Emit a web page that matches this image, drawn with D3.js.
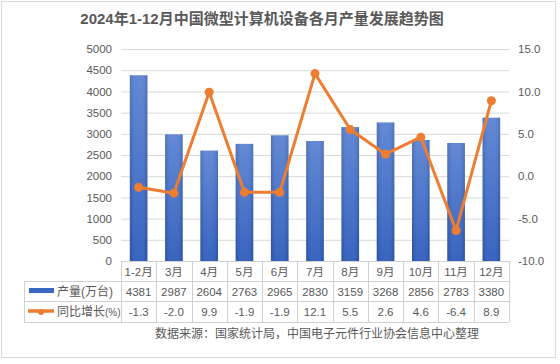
<!DOCTYPE html>
<html><head><meta charset="utf-8">
<script src="https://cdn.jsdelivr.net/npm/d3@7"></script>
<style>body{margin:0;background:#fff}svg{display:block}</style>
</head><body>
<svg id="c" width="560" height="364"></svg>
<script>
const categories = ["1-2月","3月","4月","5月","6月","7月","8月","9月","10月","11月","12月"];
const production = [4381,2987,2604,2763,2965,2830,3159,3268,2856,2783,3380];
const growth = [-1.3,-2.0,9.9,-1.9,-1.9,12.1,5.5,2.6,4.6,-6.4,8.9];
const leftTicks = [0,500,1000,1500,2000,2500,3000,3500,4000,4500,5000];
const rightTicks = [-10,-5,0,5,10,15];
const seriesNames = ["产量(万台)","同比增长(%)"];
const title = "2024年1-12月中国微型计算机设备各月产量发展趋势图";
const source = "数据来源：国家统计局，中国电子元件行业协会信息中心整理";

const svg = d3.select("#c");
const font = "'Liberation Sans','Noto Sans CJK SC',Arial,sans-serif";
const txt = "#595959", grid = "#d9d9d9";
const L = 121, R = 509, T = 49, B = 261;

svg.append("rect").attr("x",1.5).attr("y",1.5).attr("width",554).attr("height",356)
  .attr("fill","#fff").attr("stroke","#d9d9d9");

const defs = svg.append("defs");
const g1 = defs.append("linearGradient").attr("id","bg").attr("x1",0).attr("y1",0).attr("x2",0).attr("y2",1);
g1.append("stop").attr("offset","0%").attr("stop-color","#5a82d2");
g1.append("stop").attr("offset","100%").attr("stop-color","#2d5bbb");
const g2 = defs.append("linearGradient").attr("id","bh").attr("x1",0).attr("y1",0).attr("x2",1).attr("y2",0);
g2.append("stop").attr("offset","0%").attr("stop-color","#000").attr("stop-opacity",0.12);
g2.append("stop").attr("offset","30%").attr("stop-color","#fff").attr("stop-opacity",0.06);
g2.append("stop").attr("offset","70%").attr("stop-color","#fff").attr("stop-opacity",0.06);
g2.append("stop").attr("offset","100%").attr("stop-color","#000").attr("stop-opacity",0.12);

svg.append("text").attr("x",262).attr("y",24).attr("text-anchor","middle")
  .attr("font-family",font).attr("font-size",15).attr("font-weight","bold").attr("fill",txt).text(title);

const x = d3.scaleBand().domain(categories).range([L,R]).paddingInner(0.5).paddingOuter(0.25);
const y = d3.scaleLinear().domain([0,5000]).range([B,T]);
const y2 = d3.scaleLinear().domain([-10,15]).range([B,T]);

// gridlines
svg.append("g").selectAll("line").data(leftTicks.slice(1)).join("line")
  .attr("x1",L).attr("x2",R).attr("y1",d=>y(d)+0.5).attr("y2",d=>y(d)+0.5)
  .attr("stroke",grid).attr("stroke-width",1);

// left axis
const ax = svg.append("g").attr("transform",`translate(${L-9},0)`)
  .call(d3.axisLeft(y).tickValues(leftTicks).tickSize(0).tickPadding(0).tickFormat(d3.format("d")));
ax.select(".domain").remove();
ax.selectAll("text").attr("font-family",font).attr("font-size",11.5).attr("fill",txt);

// right axis
const ax2 = svg.append("g").attr("transform",`translate(${R+9},0)`)
  .call(d3.axisRight(y2).tickValues(rightTicks).tickSize(0).tickPadding(0).tickFormat(d3.format(".1f")));
ax2.select(".domain").remove();
ax2.selectAll("text").attr("font-family",font).attr("font-size",11.5).attr("fill",txt)
  .text(d=>d3.format(".1f")(d).replace("−","-"));

// bars
const bars = svg.append("g");
bars.selectAll("rect.b").data(production).join("rect").attr("class","b")
  .attr("x",(d,i)=>x(categories[i])).attr("width",x.bandwidth())
  .attr("y",d=>y(d)).attr("height",d=>B-y(d)).attr("fill","url(#bg)");
bars.selectAll("rect.s").data(production).join("rect").attr("class","s")
  .attr("x",(d,i)=>x(categories[i])).attr("width",x.bandwidth())
  .attr("y",d=>y(d)).attr("height",d=>B-y(d)).attr("fill","url(#bh)");

// line
const cx = (i)=>x(categories[i])+x.bandwidth()/2;
svg.append("path").datum(growth)
  .attr("d",d3.line().x((d,i)=>cx(i)).y(d=>y2(d)))
  .attr("fill","none").attr("stroke","#ed7d31").attr("stroke-width",3).attr("stroke-linejoin","round");
svg.append("g").selectAll("circle").data(growth).join("circle")
  .attr("cx",(d,i)=>cx(i)).attr("cy",d=>y2(d)).attr("r",4.5).attr("fill","#ed7d31");

// data table
const step = x.step();
const rows = [B, 281, 301, 322];
const tL = 24;
const tg = svg.append("g").attr("stroke","#d0d0d0").attr("stroke-width",1);
tg.append("line").attr("x1",L).attr("x2",R).attr("y1",B+0.5).attr("y2",B+0.5);
[1,2,3].forEach(r=>tg.append("line").attr("x1",tL).attr("x2",R).attr("y1",rows[r]+0.5).attr("y2",rows[r]+0.5));
tg.append("line").attr("x1",tL+0.5).attr("x2",tL+0.5).attr("y1",rows[1]).attr("y2",rows[3]);
categories.forEach((c,i)=>{
  const xx = Math.round(L+i*step)+0.5;
  tg.append("line").attr("x1",xx).attr("x2",xx).attr("y1",B).attr("y2",rows[3]);
});
tg.append("line").attr("x1",R+0.5).attr("x2",R+0.5).attr("y1",B).attr("y2",rows[3]);

const tt = svg.append("g").attr("font-family",font).attr("font-size",11.5).attr("fill",txt).attr("text-anchor","middle");
categories.forEach((c,i)=>{
  const mx = L+(i+0.5)*step;
  tt.append("text").attr("x",mx).attr("y",275.5).text(c);
  tt.append("text").attr("x",mx).attr("y",295.5).text(production[i]);
  tt.append("text").attr("x",mx).attr("y",316).text(d3.format(".1f")(growth[i]).replace("−","-"));
});
// legend keys
svg.append("rect").attr("x",29).attr("y",288).attr("width",25).attr("height",5).attr("fill","#3a66c4");
svg.append("text").attr("x",57).attr("y",296).attr("font-family",font).attr("font-size",12).attr("fill",txt).text(seriesNames[0]);
svg.append("line").attr("x1",28).attr("x2",54).attr("y1",311).attr("y2",311).attr("stroke","#ed7d31").attr("stroke-width",3.5);
svg.append("circle").attr("cx",41).attr("cy",312).attr("r",3).attr("fill","#ed7d31");
svg.append("text").attr("x",57).attr("y",316).attr("font-family",font).attr("font-size",12).attr("fill",txt)
  .html('同比增长<tspan font-size="10">(%)</tspan>');

svg.append("text").attr("x",155).attr("y",338).attr("font-family",font).attr("font-size",12).attr("fill",txt).text(source);
</script>
</body></html>
